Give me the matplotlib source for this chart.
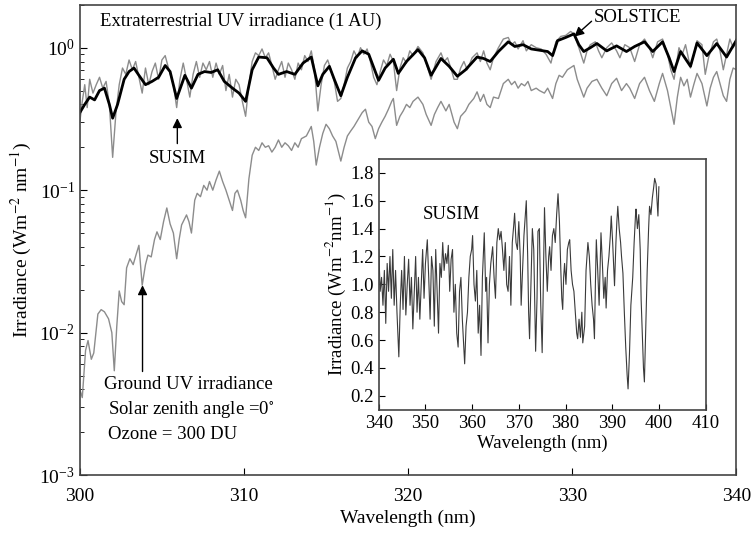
import matplotlib
matplotlib.use("Agg")
import matplotlib.pyplot as plt

plt.rcParams['font.family'] = ['Liberation Serif', 'DejaVu Serif']
plt.rcParams['mathtext.fontset'] = 'stix'

# SOLSTICE (smoothed)
sol_wl = [300.0, 300.3, 300.6, 300.9, 301.2, 301.5, 301.8, 302.0, 302.3, 302.7,
          303.0, 303.3, 303.6, 304.0, 304.4, 304.8, 305.2, 305.5, 305.9, 306.4,
          306.8, 307.2, 307.6, 308.0, 308.4, 308.8, 309.3, 309.7, 310.1, 310.5,
          310.9, 311.4, 311.8, 312.1, 312.6, 313.1, 313.6, 314.1, 314.5, 314.8,
          315.2, 315.5, 315.9, 316.3, 316.8, 317.2, 317.6, 318.2, 318.6, 319.1,
          319.4, 319.9, 320.6, 321.0, 321.4, 322.0, 322.5, 323.0, 323.5, 324.2,
          324.6, 325.0, 325.5, 326.1, 326.5, 327.0, 327.5, 328.0, 328.5, 328.8,
          329.1, 329.6, 330.1, 330.4, 330.7, 331.1, 331.5, 332.1, 332.7, 333.3,
          333.8, 334.4, 334.9, 335.5, 335.9, 336.2, 336.6, 337.2, 337.6, 338.2,
          338.8, 339.4, 340.0]
sol_val = [0.35, 0.40, 0.45, 0.43, 0.50, 0.52, 0.40, 0.32, 0.40, 0.60,
           0.68, 0.72, 0.64, 0.55, 0.58, 0.62, 0.75, 0.68, 0.44, 0.64,
           0.52, 0.65, 0.68, 0.67, 0.70, 0.58, 0.52, 0.48, 0.42, 0.70,
           0.86, 0.85, 0.72, 0.65, 0.68, 0.65, 0.78, 0.86, 0.54, 0.65,
           0.74, 0.60, 0.46, 0.62, 0.85, 0.95, 0.90, 0.59, 0.72, 0.83,
           0.66, 0.80, 0.97, 0.85, 0.64, 0.84, 0.74, 0.63, 0.70, 0.86,
           0.84, 0.80, 0.94, 1.10, 1.02, 1.05, 0.98, 0.96, 0.94, 0.88,
           1.12, 1.18, 1.25, 1.05, 0.94, 1.00, 1.07, 0.95, 1.03, 0.94,
           1.02, 1.10, 0.94, 1.10, 0.85, 0.68, 0.94, 0.74, 1.08, 0.88,
           1.07, 0.86, 1.13]

# SUSIM extraterrestrial, 300-340 nm
sus_wl = [300.0, 300.15, 300.3, 300.45, 300.6, 300.8, 301.0, 301.2, 301.4, 301.6,
          301.8, 302.0, 302.2, 302.4, 302.6, 302.8, 303.0, 303.2, 303.4, 303.6,
          303.8, 304.0, 304.2, 304.4, 304.6, 304.8, 305.0, 305.2, 305.4, 305.7,
          305.9, 306.1, 306.3, 306.5, 306.7, 306.9, 307.1, 307.3, 307.5, 307.7,
          307.9, 308.1, 308.3, 308.5, 308.7, 308.9, 309.1, 309.3, 309.5, 309.7,
          309.9, 310.1, 310.3, 310.5, 310.7, 310.9, 311.1, 311.3, 311.5, 311.7,
          311.9, 312.1, 312.3, 312.5, 312.7, 312.9, 313.1, 313.3, 313.5, 313.7,
          313.9, 314.1, 314.3, 314.5, 314.7, 314.9, 315.1, 315.3, 315.5, 315.7,
          315.9, 316.1, 316.3, 316.5, 316.7, 316.9, 317.1, 317.3, 317.5, 317.7,
          317.9, 318.1, 318.3, 318.5, 318.7, 318.9, 319.1, 319.3, 319.5, 319.7,
          319.9, 320.1, 320.3, 320.6, 320.9, 321.1, 321.4, 321.7, 322.0, 322.2,
          322.4, 322.6, 322.8, 323.0, 323.2, 323.4, 323.6, 323.9, 324.2, 324.4,
          324.6, 324.8, 325.0, 325.2, 325.5, 325.8, 326.1, 326.3, 326.5, 326.7,
          327.0, 327.2, 327.5, 327.8, 328.1, 328.4, 328.7, 329.0, 329.3, 329.6,
          329.9, 330.1, 330.4, 330.7, 330.9, 331.1, 331.4, 331.6, 331.8, 332.1,
          332.4, 332.7, 332.9, 333.2, 333.5, 333.8, 334.1, 334.4, 334.7, 334.9,
          335.2, 335.5, 335.8, 336.0, 336.2, 336.5, 336.7, 336.9, 337.2, 337.4,
          337.6, 337.9, 338.1, 338.3, 338.6, 338.8, 339.0, 339.2, 339.4, 339.6,
          339.8, 340.0]
sus_val = [0.30, 0.42, 0.55, 0.38, 0.60, 0.48, 0.55, 0.62, 0.52, 0.58,
           0.40, 0.17, 0.35, 0.55, 0.72, 0.65, 0.82, 0.70, 0.80, 0.62,
           0.48, 0.72, 0.55, 0.68, 0.78, 0.60, 0.82, 0.88, 0.72, 0.55,
           0.38, 0.60, 0.78, 0.60, 0.45, 0.65, 0.80, 0.62, 0.78, 0.70,
           0.80, 0.62, 0.78, 0.65, 0.75, 0.50, 0.65, 0.45, 0.60, 0.55,
           0.42, 0.33, 0.55, 0.80, 0.92, 0.88, 0.98, 0.85, 0.92, 0.75,
           0.60, 0.70, 0.80, 0.62, 0.78, 0.70, 0.60, 0.78, 0.70, 0.88,
           0.80, 0.95, 0.70, 0.36, 0.55, 0.75, 0.82, 0.70, 0.58, 0.42,
           0.44, 0.55, 0.72, 0.80, 0.95, 0.85, 1.00, 0.90, 0.98, 0.80,
           0.62, 0.55, 0.68, 0.82, 0.75, 0.90, 0.80, 0.50, 0.72, 0.85,
           0.78, 0.95, 0.88, 1.02, 0.92, 0.78, 0.60, 0.80, 0.92, 0.80,
           0.85, 0.72, 0.60, 0.60, 0.72, 0.80, 0.70, 0.85, 0.92, 0.80,
           0.95, 0.78, 0.70, 0.85, 1.00, 1.15, 1.18, 1.05, 1.10, 0.98,
           1.12, 0.95, 1.05, 1.00, 0.98, 0.90, 0.78, 1.10, 1.20, 1.22,
           1.30, 1.25, 1.00, 0.78, 0.95, 1.05, 1.10, 0.95, 0.85, 1.00,
           1.08, 0.95, 0.85, 1.05, 1.00, 0.80, 1.05, 1.15, 1.00, 0.85,
           1.10, 1.15, 0.90, 0.70, 0.60, 1.00, 0.90, 1.05, 0.72, 0.90,
           1.12, 1.05, 0.65, 0.85, 1.10, 1.15, 0.95, 0.70, 0.90, 1.15,
           1.00, 1.10]

# Ground UV irradiance (SZA 0, 300 DU)
gnd_wl = [300.0, 300.15, 300.35, 300.5, 300.7, 300.85, 301.1, 301.3, 301.5, 301.75,
          301.95, 302.1, 302.25, 302.4, 302.55, 302.7, 302.85, 303.05, 303.25, 303.45,
          303.6, 303.8, 304.0, 304.15, 304.35, 304.55, 304.7, 304.9, 305.1, 305.3,
          305.5, 305.7, 305.9, 306.05, 306.2, 306.5, 306.65, 306.8, 307.0, 307.15,
          307.35, 307.55, 307.75, 307.9, 308.1, 308.3, 308.5, 308.7, 308.9, 309.1,
          309.3, 309.45, 309.6, 309.8, 309.95, 310.1, 310.3, 310.5, 310.7, 310.9,
          311.1, 311.3, 311.5, 311.7, 311.9, 312.1, 312.3, 312.5, 312.7, 312.9,
          313.1, 313.3, 313.5, 313.8, 314.1, 314.25, 314.4, 314.6, 314.8, 315.0,
          315.2, 315.4, 315.6, 315.9, 316.1, 316.3, 316.5, 316.7, 317.0, 317.2,
          317.4, 317.6, 317.8, 318.0, 318.2, 318.4, 318.6, 318.8, 319.0, 319.1,
          319.3, 319.5, 319.7, 319.9, 320.1, 320.3, 320.6, 320.9, 321.1, 321.4,
          321.6, 321.8, 322.0, 322.3, 322.5, 322.8, 323.0, 323.2, 323.5, 323.7,
          324.0, 324.2, 324.4, 324.6, 324.8, 325.0, 325.2, 325.5, 325.8, 326.1,
          326.3, 326.5, 326.7, 326.9, 327.1, 327.3, 327.5, 327.8, 328.0, 328.3,
          328.5, 328.8, 329.0, 329.2, 329.4, 329.7, 330.1, 330.3, 330.5, 330.7,
          330.9, 331.2, 331.5, 331.8, 332.1, 332.4, 332.7, 333.0, 333.3, 333.5,
          333.8, 334.1, 334.4, 334.7, 335.0, 335.3, 335.5, 335.8, 336.0, 336.2,
          336.4, 336.6, 336.8, 337.0, 337.2, 337.4, 337.6, 337.9, 338.2, 338.4,
          338.6, 338.8, 339.0, 339.2, 339.4, 339.6, 339.8, 340.0]
gnd_val = [0.0040, 0.0035, 0.0075, 0.0088, 0.0065, 0.0072, 0.0135, 0.0145, 0.0140, 0.0125,
           0.0100, 0.0054, 0.0110, 0.0196, 0.0165, 0.0157, 0.0285, 0.033, 0.030, 0.036,
           0.041, 0.0215, 0.030, 0.035, 0.034, 0.045, 0.051, 0.045, 0.060, 0.075,
           0.058, 0.050, 0.033, 0.045, 0.057, 0.067, 0.060, 0.050, 0.085, 0.095,
           0.090, 0.108, 0.100, 0.115, 0.100, 0.118, 0.136, 0.115, 0.100, 0.085,
           0.072, 0.095, 0.100, 0.085, 0.072, 0.064, 0.120, 0.176, 0.200, 0.190,
           0.215, 0.200, 0.205, 0.185, 0.200, 0.225, 0.200, 0.215, 0.205, 0.190,
           0.215, 0.200, 0.230, 0.240, 0.280, 0.220, 0.150, 0.200, 0.250, 0.290,
           0.270, 0.240, 0.220, 0.160, 0.200, 0.240, 0.260, 0.280, 0.320, 0.350,
           0.370, 0.300, 0.280, 0.230, 0.270, 0.300, 0.330, 0.370, 0.420, 0.440,
           0.285, 0.330, 0.360, 0.400, 0.380, 0.420, 0.450, 0.400, 0.340, 0.285,
           0.340, 0.380, 0.420, 0.360, 0.400, 0.300, 0.270, 0.330, 0.360, 0.400,
           0.440, 0.490, 0.420, 0.470, 0.400, 0.380, 0.450, 0.440, 0.560, 0.600,
           0.550, 0.580, 0.520, 0.560, 0.540, 0.580, 0.500, 0.520, 0.500, 0.480,
           0.520, 0.440, 0.560, 0.640, 0.620, 0.700, 0.750, 0.600, 0.520, 0.450,
           0.520, 0.580, 0.600, 0.520, 0.460, 0.560, 0.610, 0.500, 0.560, 0.520,
           0.440, 0.560, 0.620, 0.500, 0.420, 0.560, 0.660, 0.500, 0.380, 0.290,
           0.450, 0.620, 0.540, 0.600, 0.450, 0.550, 0.660, 0.560, 0.390, 0.520,
           0.620, 0.680, 0.560, 0.460, 0.420, 0.600, 0.720, 0.700]

# SUSIM 340-400 nm (inset)
ins_wl = [340.0, 340.3, 340.6, 340.9, 341.2, 341.5, 341.8, 342.1, 342.4, 342.7,
          343.0, 343.3, 343.6, 343.9, 344.3, 344.6, 344.9, 345.2, 345.5, 345.8,
          346.1, 346.4, 346.7, 347.0, 347.3, 347.6, 347.9, 348.2, 348.5, 348.8,
          349.1, 349.4, 349.7, 350.0, 350.4, 350.7, 351.0, 351.3, 351.6, 351.9,
          352.2, 352.5, 352.8, 353.1, 353.4, 353.7, 354.0, 354.3, 354.6, 354.9,
          355.2, 355.5, 355.8, 356.1, 356.4, 356.7, 357.0, 357.3, 357.6, 357.9,
          358.2, 358.4, 358.7, 359.0, 359.3, 359.6, 359.9, 360.1, 360.4, 360.7,
          361.0, 361.3, 361.6, 361.9, 362.2, 362.6, 362.9, 363.1, 363.4, 363.7,
          364.0, 364.4, 364.7, 365.0, 365.3, 365.6, 365.9, 366.2, 366.5, 366.8,
          367.1, 367.4, 367.7, 368.0, 368.3, 368.6, 368.9, 369.1, 369.4, 369.7,
          370.0, 370.3, 370.5, 370.8, 371.1, 371.4, 371.6, 371.9, 372.1, 372.3,
          372.6, 372.9, 373.2, 373.6, 373.9, 374.1, 374.4, 374.7, 375.0, 375.2,
          375.5, 375.8, 376.1, 376.4, 376.6, 376.9, 377.2, 377.5, 377.8, 378.1,
          378.4, 378.7, 379.0, 379.2, 379.4, 379.6, 379.8, 380.1, 380.4, 380.7,
          380.9, 381.2, 381.5, 381.8, 382.1, 382.4, 382.6, 382.9, 383.2, 383.5,
          383.7, 384.1, 384.4, 384.8, 385.1, 385.4, 385.7, 386.0, 386.2, 386.4,
          386.6, 386.9, 387.2, 387.6, 387.9, 388.2, 388.5, 388.7, 389.0, 389.3,
          389.6, 389.8, 390.1, 390.5, 390.8, 391.0, 391.2, 391.5, 391.8, 392.0,
          392.3, 392.6, 392.9, 393.2, 393.4, 393.7, 394.0, 394.4, 394.7, 395.0,
          395.1, 395.4, 395.7, 396.0, 396.2, 396.5, 396.7, 396.9, 397.2, 397.5,
          397.8, 398.0, 398.3, 398.6, 398.9, 399.1, 399.4, 399.6, 399.8, 400.0]
ins_val = [1.25, 0.95, 1.05, 0.85, 1.10, 0.72, 1.15, 0.95, 1.20, 0.90,
           1.25, 0.85, 1.10, 0.80, 0.48, 0.85, 1.10, 0.82, 1.20, 0.78,
           1.00, 1.18, 0.85, 1.05, 0.68, 0.95, 1.20, 0.80, 1.05, 0.75,
           1.00, 1.25, 0.90, 1.15, 1.32, 1.05, 0.75, 1.20, 1.10, 0.70,
           1.25, 0.95, 0.65, 1.15, 1.05, 1.30, 1.10, 1.22, 1.15, 1.28,
           0.95, 1.18, 1.25, 0.80, 1.00, 0.65, 0.55, 0.95, 1.05, 0.75,
           0.55, 0.43, 0.70, 0.80, 1.05, 1.20, 1.25, 1.35, 1.00, 0.88,
           1.10, 0.65, 0.85, 0.49, 1.05, 1.37, 0.95, 1.05, 0.58, 1.00,
           1.15, 1.27, 1.05, 0.90, 1.30, 1.40, 1.32, 1.38, 1.25, 1.10,
           1.30, 1.00, 0.95, 1.20, 0.85, 1.30, 1.42, 1.51, 1.30, 1.25,
           1.45, 1.20, 0.85, 1.10, 1.35, 1.50, 1.60, 1.20, 0.80, 0.61,
           1.00, 1.40, 1.25, 0.52, 0.90, 1.38, 1.40, 0.85, 0.51, 0.90,
           1.55, 1.20, 0.95, 1.20, 1.27, 1.10, 1.35, 1.40, 1.30, 1.50,
           1.65, 1.45, 1.10, 0.90, 0.82, 1.05, 1.15, 1.00, 1.25, 1.30,
           1.32, 1.10, 1.00, 0.95, 0.80, 0.65, 0.61, 0.75, 0.62, 0.80,
           0.58, 0.70, 1.10, 1.30, 1.20, 1.00, 0.85, 0.75, 0.61, 1.00,
           1.32, 1.10, 0.85, 1.37, 1.15, 0.90, 1.05, 0.83, 1.10, 1.20,
           1.35, 1.49, 1.30, 0.99, 1.30, 1.45, 1.56, 1.40, 1.30, 1.20,
           1.08, 0.80, 0.55, 0.35, 0.25, 0.50, 0.85, 1.05, 1.30, 1.50,
           1.54, 1.40, 1.50, 1.25, 0.89, 0.60, 0.40, 0.30, 0.70, 1.10,
           1.40, 1.56, 1.50, 1.62, 1.70, 1.76, 1.72, 1.60, 1.49, 1.70]

fig = plt.figure(figsize=(7.53, 5.35), dpi=100)
ax = fig.add_axes([0.106, 0.112, 0.872, 0.879])

ax.plot(sus_wl, sus_val, color='#8c8c8c', lw=1.0)
ax.plot(gnd_wl, gnd_val, color='#8c8c8c', lw=1.0)
ax.plot(sol_wl, sol_val, color='black', lw=2.0)

ax.set_yscale('log')
ax.set_xlim(300, 340)
ax.set_ylim(1e-3, 2.0)
ax.set_xticks([300, 310, 320, 330, 340])
ax.tick_params(which='both', direction='in', labelsize=14)
ax.tick_params(which='major', length=5)
ax.tick_params(which='minor', length=3)
ax.tick_params(axis='x', pad=9)
for s in ax.spines.values():
    s.set_color('#444444')
    s.set_linewidth(1.2)
ax.set_xlabel('Wavelength (nm)', fontsize=14, labelpad=4)
ax.set_ylabel(r'Irradiance (Wm$^{-2}$ nm$^{-1}$)', fontsize=14)

ax.text(301.2, 1.54, 'Extraterrestrial UV irradiance (1 AU)', fontsize=13.5, va='center')
ax.text(331.3, 1.62, 'SOLSTICE', fontsize=13.5, va='center')
ax.annotate('', xy=(330.0, 1.16), xytext=(331.3, 1.58),
            arrowprops=dict(arrowstyle='-|>', color='black', lw=1, mutation_scale=14))
ax.text(305.94, 0.167, 'SUSIM', fontsize=13.5, ha='center', va='center')
ax.annotate('', xy=(305.94, 0.335), xytext=(305.94, 0.203),
            arrowprops=dict(arrowstyle='-|>', color='black', lw=1, mutation_scale=14))
ax.text(301.5, 0.0043, 'Ground UV irradiance', fontsize=13.5, va='center')
ax.text(301.7, 0.0029, r'Solar zenith angle =0$^{\circ}$', fontsize=13.5, va='center')
ax.text(301.7, 0.00194, 'Ozone = 300 DU', fontsize=13.5, va='center')
ax.annotate('', xy=(303.82, 0.0225), xytext=(303.82, 0.0051),
            arrowprops=dict(arrowstyle='-|>', color='black', lw=1, mutation_scale=14))

# inset: SUSIM 340-400 nm
ins = fig.add_axes([0.503, 0.234, 0.434, 0.469])
ins.plot(ins_wl, ins_val, color='#3a3a3a', lw=0.8)
ins.set_xlim(340, 410)
ins.set_ylim(0.1, 1.9)
ins.set_xticks(range(340, 411, 10))
ins.set_yticks([0.2, 0.4, 0.6, 0.8, 1.0, 1.2, 1.4, 1.6, 1.8])
ins.set_yticklabels(['0.2', '0.4', '0.6', '0.8', '1.0', '1.2', '1.4', '1.6', '1.8'])
ins.tick_params(direction='in', labelsize=13.5, length=4)
for s in ins.spines.values():
    s.set_color('#444444')
    s.set_linewidth(1.2)
ins.set_xlabel('Wavelength (nm)', fontsize=13.5, labelpad=2)
ins.set_ylabel(r'Irradiance (Wm$^{-2}$nm$^{-1}$)', fontsize=13.5, labelpad=2)
ins.text(355.6, 1.5, 'SUSIM', fontsize=13.5, ha='center', va='center')

fig.savefig('out.png', dpi=100)
